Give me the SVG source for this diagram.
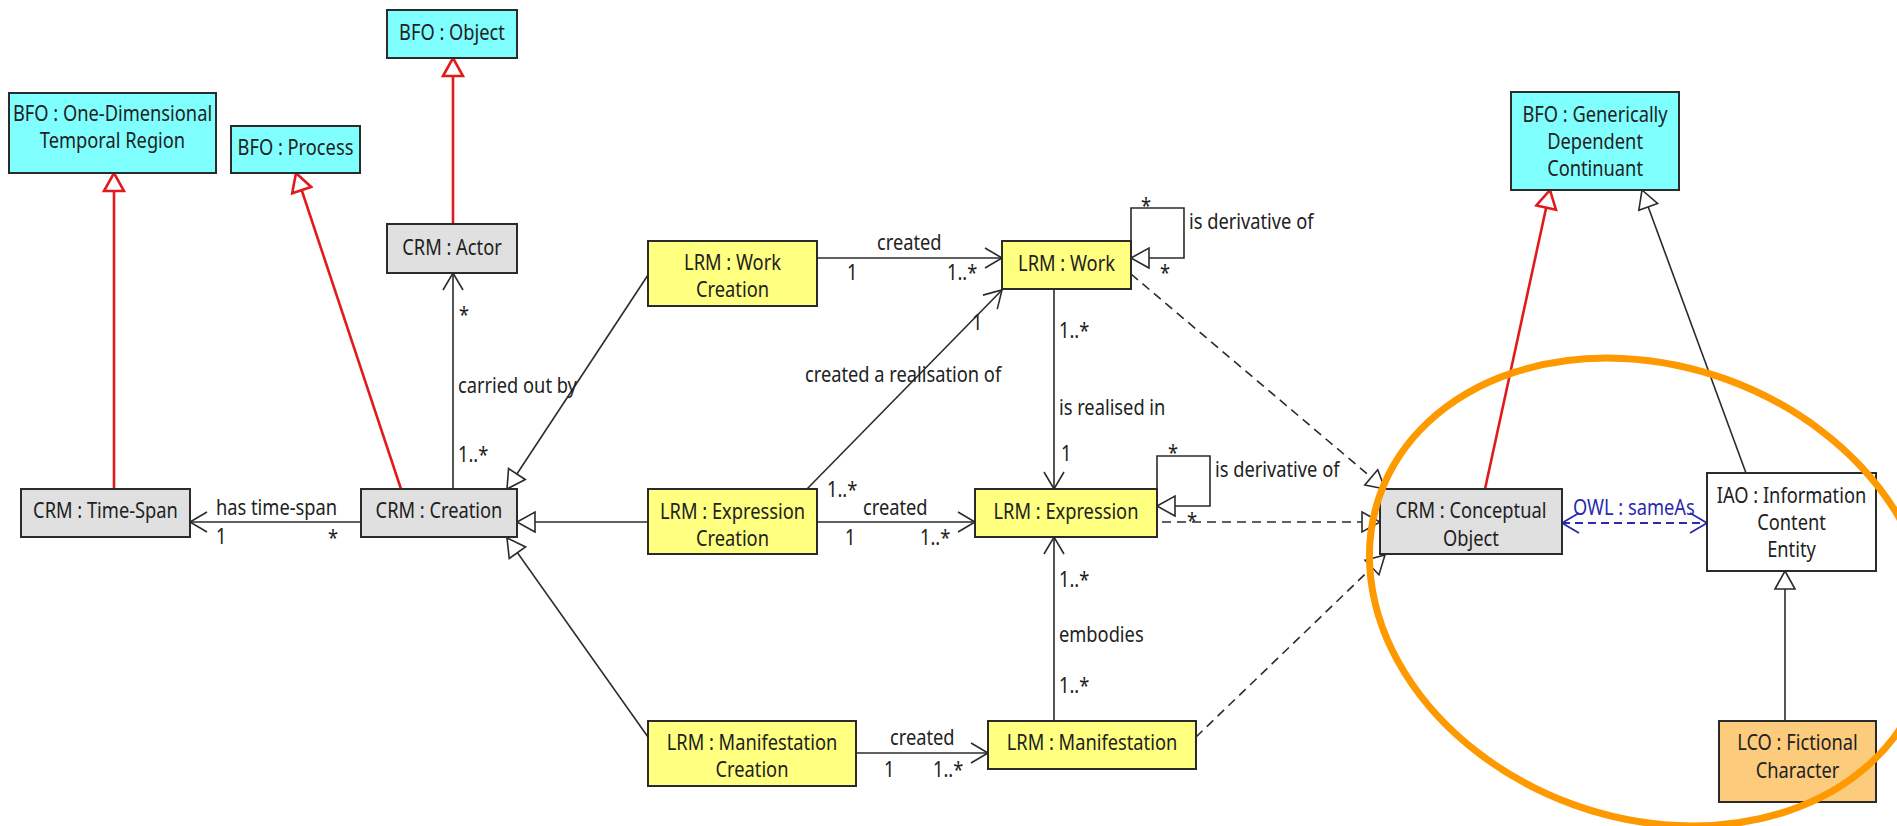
<svg xmlns="http://www.w3.org/2000/svg" width="1897" height="826" viewBox="0 0 1897 826">
  <style>
    text { font-family: "Noto Sans", "DejaVu Sans", sans-serif; font-size: 21px; fill: #222; }
    .c { text-anchor: middle; transform-box: fill-box; transform-origin: 50% 50%; transform: scaleX(0.87); }
    .l { text-anchor: start; transform-box: fill-box; transform-origin: 0% 50%; transform: scaleX(0.87); }
    .box { stroke: #2b2b2b; stroke-width: 2; }
    .bfo { fill: #80ffff; }
    .crm { fill: #e0e0e0; }
    .lrm { fill: #ffff80; }
    .iao { fill: #ffffff; }
    .lco { fill: #fdcb7c; }
    .assoc { stroke: #2b2b2b; stroke-width: 1.6; fill: none; marker-end: url(#open); }
    .gen { stroke: #2b2b2b; stroke-width: 1.6; fill: none; marker-end: url(#tri); }
    .genred { stroke: #e11b1b; stroke-width: 2.6; fill: none; marker-end: url(#trired); }
    .real { stroke: #2b2b2b; stroke-width: 1.6; fill: none; stroke-dasharray: 9 6; marker-end: url(#tri); }
    .same { stroke: #2a2ab0; stroke-width: 1.8; fill: none; stroke-dasharray: 8 5; marker-start: url(#openblue); marker-end: url(#openblue); }
    .blue { fill: #2a2ab0; }
  </style>
  <defs>
    <marker id="open" markerUnits="userSpaceOnUse" viewBox="-1 -1 20 24" markerWidth="20" markerHeight="24" refX="17" refY="10" orient="auto">
      <path d="M0,0 L17,10 L0,20" fill="none" stroke="#2b2b2b" stroke-width="1.6"/>
    </marker>
    <marker id="openblue" markerUnits="userSpaceOnUse" viewBox="-1 -1 20 24" markerWidth="20" markerHeight="24" refX="17" refY="10" orient="auto-start-reverse">
      <path d="M0,0 L17,10 L0,20" fill="none" stroke="#2a2ab0" stroke-width="1.8"/>
    </marker>
    <marker id="tri" markerUnits="userSpaceOnUse" viewBox="-2 -2 22 24" markerWidth="22" markerHeight="24" refX="18" refY="10" orient="auto">
      <path d="M0,0 L18,10 L0,20 Z" fill="#ffffff" stroke="#2b2b2b" stroke-width="1.6"/>
    </marker>
    <marker id="trired" markerUnits="userSpaceOnUse" viewBox="-2 -2 22 24" markerWidth="22" markerHeight="24" refX="18" refY="10" orient="auto">
      <path d="M0,0 L18,10 L0,20 Z" fill="#ffffff" stroke="#e11b1b" stroke-width="2.6"/>
    </marker>
  </defs>

  <rect width="1897" height="826" fill="#ffffff"/>

  <!-- connectors -->
  <g id="connectors">
    <!-- subclass links into BFO -->
    <path class="genred" d="M114,489 L114,173"/>
    <path class="genred" d="M401,489 L296,173"/>
    <path class="genred" d="M453,224 L453,58"/>
    <path class="genred" d="M1485,489 L1550,190"/>
    <path class="gen" d="M1746,473 L1642,190"/>
    <path class="gen" d="M1785,721 L1785,571"/>

    <!-- LRM creation events specialise CRM creation -->
    <path class="gen" d="M648,275 L507,489"/>
    <path class="gen" d="M648,522 L517,522"/>
    <path class="gen" d="M648,737 L507,538"/>

    <!-- associations -->
    <path class="assoc" d="M361,522 L190,522"/>
    <path class="assoc" d="M453,489 L453,273"/>
    <path class="assoc" d="M817,258 L1002,258"/>
    <path class="assoc" d="M807,489 L1002,290"/>
    <path class="assoc" d="M1054,289 L1054,489"/>
    <path class="assoc" d="M817,522 L975,522"/>
    <path class="assoc" d="M1054,721 L1054,537"/>
    <path class="assoc" d="M856,753 L988,753"/>

    <!-- derivative self-loops -->
    <path class="gen" d="M1131,241 L1131,208 L1184,208 L1184,258 L1131,258"/>
    <path class="gen" d="M1157,489 L1157,456 L1210,456 L1210,506 L1157,506"/>

    <!-- realisations of CRM conceptual object -->
    <path class="real" d="M1131,274 L1385,489"/>
    <path class="real" d="M1162,522 L1380,522"/>
    <path class="real" d="M1196,737 L1385,555"/>

    <!-- equivalence -->
    <path class="same" d="M1562,523 L1707,523"/>

    <!-- connector labels -->
    <text class="l" x="216" y="515">has time-span</text>
    <text class="l" x="216" y="544">1</text>
    <text class="l" x="328" y="545">*</text>

    <text class="l" x="459" y="322">*</text>
    <text class="l" x="458" y="393">carried out by</text>
    <text class="l" x="458" y="462">1..*</text>

    <text class="l" x="877" y="250">created</text>
    <text class="l" x="847" y="280">1</text>
    <text class="l" x="947" y="280">1..*</text>

    <text class="l" x="1141" y="213">*</text>
    <text class="l" x="1160" y="280">*</text>
    <text class="l" x="1189" y="229">is derivative of</text>

    <text class="l" x="805" y="382">created a realisation of</text>
    <text class="l" x="972" y="330">1</text>
    <text class="l" x="827" y="497">1..*</text>

    <text class="l" x="1059" y="338">1..*</text>
    <text class="l" x="1059" y="415">is realised in</text>
    <text class="l" x="1061" y="461">1</text>

    <text class="l" x="863" y="515">created</text>
    <text class="l" x="845" y="545">1</text>
    <text class="l" x="920" y="545">1..*</text>

    <text class="l" x="1168" y="460">*</text>
    <text class="l" x="1187" y="528">*</text>
    <text class="l" x="1215" y="477">is derivative of</text>

    <text class="l" x="1059" y="587">1..*</text>
    <text class="l" x="1059" y="642">embodies</text>
    <text class="l" x="1059" y="693">1..*</text>

    <text class="l" x="890" y="745">created</text>
    <text class="l" x="884" y="777">1</text>
    <text class="l" x="933" y="777">1..*</text>

    <text class="l blue" x="1573" y="515">OWL : sameAs</text>
  </g>

  <!-- nodes -->
  <g id="bfo-temporal-region">
    <rect class="box bfo" x="9" y="93" width="207" height="80"/>
    <text class="c" x="112.5"><tspan x="112.5" y="121">BFO : One-Dimensional</tspan><tspan x="112.5" y="148">Temporal Region</tspan></text>
  </g>
  <g id="bfo-process">
    <rect class="box bfo" x="231" y="126" width="129" height="47"/>
    <text class="c" x="295.5" y="155">BFO : Process</text>
  </g>
  <g id="bfo-object">
    <rect class="box bfo" x="387" y="10" width="130" height="48"/>
    <text class="c" x="452" y="40">BFO : Object</text>
  </g>
  <g id="crm-actor">
    <rect class="box crm" x="387" y="224" width="130" height="49"/>
    <text class="c" x="452" y="255">CRM : Actor</text>
  </g>
  <g id="crm-time-span">
    <rect class="box crm" x="21" y="489" width="169" height="48"/>
    <text class="c" x="105.5" y="518">CRM : Time-Span</text>
  </g>
  <g id="crm-creation">
    <rect class="box crm" x="361" y="489" width="156" height="48"/>
    <text class="c" x="439" y="518">CRM : Creation</text>
  </g>
  <g id="lrm-work-creation">
    <rect class="box lrm" x="648" y="241" width="169" height="65"/>
    <text class="c" x="732.5"><tspan x="732.5" y="270">LRM : Work</tspan><tspan x="732.5" y="297">Creation</tspan></text>
  </g>
  <g id="lrm-work">
    <rect class="box lrm" x="1002" y="241" width="129" height="48"/>
    <text class="c" x="1066.5" y="271">LRM : Work</text>
  </g>
  <g id="lrm-expression-creation">
    <rect class="box lrm" x="648" y="489" width="169" height="65"/>
    <text class="c" x="732.5"><tspan x="732.5" y="519">LRM : Expression</tspan><tspan x="732.5" y="546">Creation</tspan></text>
  </g>
  <g id="lrm-expression">
    <rect class="box lrm" x="975" y="489" width="182" height="48"/>
    <text class="c" x="1066" y="519">LRM : Expression</text>
  </g>
  <g id="lrm-manifestation-creation">
    <rect class="box lrm" x="648" y="721" width="208" height="65"/>
    <text class="c" x="752"><tspan x="752" y="750">LRM : Manifestation</tspan><tspan x="752" y="777">Creation</tspan></text>
  </g>
  <g id="lrm-manifestation">
    <rect class="box lrm" x="988" y="721" width="208" height="48"/>
    <text class="c" x="1092" y="750">LRM : Manifestation</text>
  </g>
  <g id="bfo-gdc">
    <rect class="box bfo" x="1511" y="92" width="168" height="98"/>
    <text class="c" x="1595"><tspan x="1595" y="122">BFO : Generically</tspan><tspan x="1595" y="149">Dependent</tspan><tspan x="1595" y="176">Continuant</tspan></text>
  </g>
  <g id="crm-conceptual-object">
    <rect class="box crm" x="1380" y="489" width="182" height="65"/>
    <text class="c" x="1471"><tspan x="1471" y="518">CRM : Conceptual</tspan><tspan x="1471" y="546">Object</tspan></text>
  </g>
  <g id="iao-ice">
    <rect class="box iao" x="1707" y="473" width="169" height="98"/>
    <text class="c" x="1791.5"><tspan x="1791.5" y="503">IAO : Information</tspan><tspan x="1791.5" y="530">Content</tspan><tspan x="1791.5" y="557">Entity</tspan></text>
  </g>
  <g id="lco-fictional-character">
    <rect class="box lco" x="1719" y="721" width="157" height="81"/>
    <text class="c" x="1797.5"><tspan x="1797.5" y="750">LCO : Fictional</tspan><tspan x="1797.5" y="778">Character</tspan></text>
  </g>

  <!-- highlight ring -->
  <ellipse id="highlight" cx="1650" cy="592" rx="287" ry="226" transform="rotate(20 1650 592)" fill="none" stroke="#ff9900" stroke-width="7"/>
</svg>
